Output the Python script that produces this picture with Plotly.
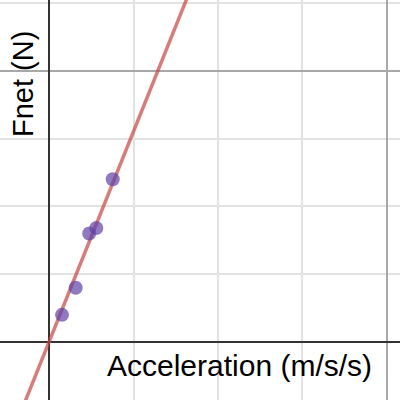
import numpy as np
import plotly.graph_objects as go

# measured data
accel = [0.077, 0.158, 0.238, 0.280, 0.377]   # m/s/s
fnet = [0.20, 0.40, 0.80, 0.84, 1.20]         # N

# least squares line through the origin: Fnet = m * a
a = np.array(accel)
f = np.array(fnet)
m = (a * f).sum() / (a * a).sum()

x_range = [-0.290, 2.077]
y_range = [-0.428, 2.522]
x_line = np.array(x_range)

fig = go.Figure()

fig.add_trace(go.Scatter(
    x=x_line, y=m * x_line,
    mode='lines',
    line=dict(color='rgba(199,68,64,0.7)', width=3.5),
    hoverinfo='skip',
    showlegend=False
))

fig.add_trace(go.Scatter(
    x=accel, y=fnet,
    mode='markers',
    marker=dict(color='rgba(96,66,166,0.7)', size=14, line=dict(width=0)),
    showlegend=False
))

axis_style = dict(
    showticklabels=False,
    ticks='',
    dtick=2,
    tick0=0,
    showgrid=True,
    gridcolor='#a8a8a8',
    gridwidth=1.5,
    minor=dict(dtick=0.5, tick0=0, showgrid=True, gridcolor='#e2e2e2', gridwidth=1.5),
    zeroline=True,
    zerolinecolor='#333333',
    zerolinewidth=2,
    showline=False,
    fixedrange=True
)

fig.update_layout(
    width=400,
    height=400,
    margin=dict(l=0, r=0, t=0, b=0),
    paper_bgcolor='white',
    plot_bgcolor='white',
    xaxis=dict(range=x_range, **axis_style),
    yaxis=dict(range=y_range, **axis_style),
    font=dict(family='Liberation Sans, Arial, sans-serif', color='#000000'),
    annotations=[
        dict(text='Acceleration (m/s/s)', xref='paper', yref='paper',
             x=239 / 400, y=1 - 365 / 400, xanchor='center', yanchor='middle',
             showarrow=False, font=dict(size=30)),
        dict(text='Fnet (N)', xref='paper', yref='paper',
             x=23 / 400, y=1 - 84 / 400, xanchor='center', yanchor='middle',
             textangle=-90, showarrow=False, font=dict(size=29)),
    ]
)

# drop the default 8px page margin so the chart starts at the window corner
fig.write_html("out.html", config={'displayModeBar': False},
               post_script="document.body.style.margin='0';")
